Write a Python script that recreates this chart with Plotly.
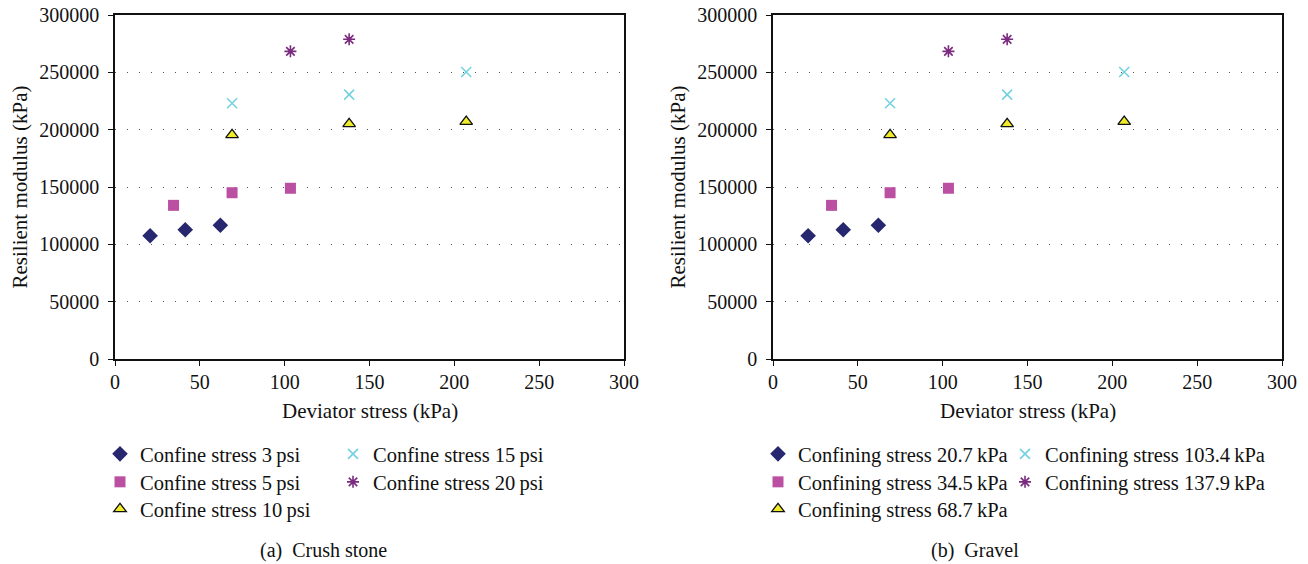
import plotly.graph_objects as go

# ---- data ----
x_3psi = [20.7, 41.4, 62.1]
y_3psi = [107500, 112700, 116600]
x_5psi = [34.5, 69.0, 103.4]
y_5psi = [134000, 145000, 148900]
x_10psi = [69.0, 138.0, 207.0]
y_10psi = [195500, 205000, 207000]
x_15psi = [69.0, 138.0, 207.0]
y_15psi = [223000, 230500, 250300]
x_20psi = [103.4, 138.0]
y_20psi = [268300, 278800]

names_a = ["Confine stress 3\u2009psi", "Confine stress 5\u2009psi", "Confine stress 10\u2009psi",
           "Confine stress 15\u2009psi", "Confine stress 20\u2009psi"]
names_b = ["Confining stress 20.7\u2009kPa", "Confining stress 34.5\u2009kPa", "Confining stress 68.7\u2009kPa",
           "Confining stress 103.4\u2009kPa", "Confining stress 137.9\u2009kPa"]
captions = ["(a)  Crush stone", "(b)  Gravel"]
x_title = "Deviator stress (kPa)"
y_title = "Resilient modulus (kPa)"
x_ticks = [0, 50, 100, 150, 200, 250, 300]
y_ticks = [0, 50000, 100000, 150000, 200000, 250000, 300000]

FONT = "Liberation Serif"
W, H = 1308, 564

series = [
    (x_3psi, y_3psi, dict(symbol="diamond", size=12, color="#27276f", line=dict(width=0))),
    (x_5psi, y_5psi, dict(symbol="square", size=11, color="#bb50a2", line=dict(width=0))),
    (x_10psi, y_10psi, dict(symbol="triangle-up", size=11, color="#f0ec2a", line=dict(width=1.3, color="#111111"))),
    (x_15psi, y_15psi, dict(symbol="x-thin-open", size=10, color="#74d2e0", line=dict(width=1.6, color="#74d2e0"))),
    (x_20psi, y_20psi, dict(symbol="asterisk-open", size=10, color="#7b2a7f", line=dict(width=1.6, color="#7b2a7f"))),
]


def px_x(v):
    return v / W


def px_y(v):
    return 1 - v / H


# legend slots (page px): left edge and row centre
row_c = [455, 483, 510]
leg_slots = [
    [(100, row_c[0]), (100, row_c[1]), (100, row_c[2]), (333, row_c[0]), (333, row_c[1])],
    [(758, row_c[0]), (758, row_c[1]), (758, row_c[2]), (1005, row_c[0]), (1005, row_c[1])],
]
leg_font = dict(family=FONT, size=20.5, color="#111111")

fig = go.Figure()
n = 0
for p, names in enumerate([names_a, names_b]):
    xa = "x" if p == 0 else "x2"
    ya = "y" if p == 0 else "y2"
    for i, (xs, ys, mk) in enumerate(series):
        n += 1
        lid = "legend" if n == 1 else "legend%d" % n
        fig.add_trace(go.Scatter(
            x=xs, y=ys, mode="markers", name=names[i], marker=mk,
            xaxis=xa, yaxis=ya, legend=lid, showlegend=True,
        ))
        lx, lc = leg_slots[p][i]
        fig.update_layout(**{lid: dict(
            x=px_x(lx), y=px_y(lc - 21), xanchor="left", yanchor="top",
            font=leg_font, bgcolor="rgba(0,0,0,0)", borderwidth=0,
            itemsizing="trace", orientation="v", visible=True,
        )})

axis_common = dict(
    showline=True, linecolor="#111111", linewidth=1.5, mirror=True,
    ticks="outside", ticklen=5, tickcolor="#111111", tickwidth=1.2,
    tickfont=dict(family=FONT, size=20, color="#111111"),
    zeroline=False, automargin=False, ticklabeloverflow="allow",
)
xdom = [(115, 624), (773, 1282)]
for p in range(2):
    sfx = "" if p == 0 else "2"
    fig.update_layout(**{
        "xaxis" + sfx: dict(
            axis_common, range=[0, 300], tickvals=x_ticks, ticktext=[str(v) for v in x_ticks],
            showgrid=False, ticklabelstandoff=-1,
            domain=[px_x(xdom[p][0]), px_x(xdom[p][1])],
            anchor="y" + sfx,
        ),
        "yaxis" + sfx: dict(
            axis_common, range=[0, 300000], tickvals=y_ticks, ticktext=[str(v) for v in y_ticks],
            showgrid=True, gridcolor="#555555", griddash="1px,11px", gridwidth=1.2,
            ticklabelstandoff=5,
            domain=[px_y(359), px_y(15)],
            anchor="x" + sfx,
        ),
    })
    # axis titles
    fig.add_annotation(text=x_title, x=px_x((xdom[p][0] + xdom[p][1]) / 2), y=px_y(411),
                       xref="paper", yref="paper", showarrow=False,
                       xanchor="center", yanchor="middle",
                       font=dict(family=FONT, size=21, color="#111111"))
    fig.add_annotation(text=y_title, x=px_x(19.5 + (xdom[p][0] - 115)), y=px_y(187),
                       xref="paper", yref="paper", showarrow=False, textangle=-90,
                       xanchor="center", yanchor="middle",
                       font=dict(family=FONT, size=21, color="#111111"))

for p, cx in enumerate([323, 975]):
    fig.add_annotation(text=captions[p], x=px_x(cx), y=px_y(550), xref="paper", yref="paper",
                       showarrow=False, xanchor="center", yanchor="middle",
                       font=dict(family=FONT, size=20, color="#111111"))

fig.update_layout(
    width=W, height=H, margin=dict(l=0, r=0, t=0, b=0),
    paper_bgcolor="white", plot_bgcolor="white", showlegend=True,
    font=dict(family=FONT, color="#111111"),
)

fig.write_html(
    "out.html",
    config={"displayModeBar": False},
    post_script="document.body.style.margin='0';document.body.style.overflow='hidden';",
)
